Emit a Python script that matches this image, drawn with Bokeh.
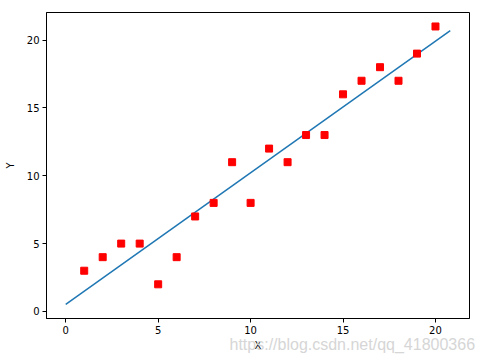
from bokeh.plotting import figure
from bokeh.models import Range1d, Title, FixedTicker
from bokeh.embed import file_html
from bokeh.resources import INLINE

x_vals = [1, 2, 3, 4, 5, 6, 7, 8, 9, 10, 11, 12, 13, 14, 15, 16, 17, 18, 19, 20]
y_vals = [3, 4, 5, 5, 2, 4, 7, 8, 11, 8, 12, 11, 13, 13, 16, 17, 18, 17, 19, 21]
line_x = [0, 20.8]
line_y = [0.52, 20.69]
ticks = [0, 5, 10, 15, 20]
watermark = "https://blog.csdn.net/qq_41800366"

p = figure(width=482, height=358, output_backend="svg", toolbar_location=None,
           x_range=Range1d(-1.04, 21.84), y_range=Range1d(-0.52, 22.03),
           min_border_left=46, min_border_right=13, min_border_top=12, min_border_bottom=40)
p.background_fill_color = "white"
p.border_fill_color = "white"
p.outline_line_color = "black"
p.outline_line_width = 1
p.xgrid.visible = False
p.ygrid.visible = False

p.line(line_x, line_y, line_color="#1f77b4", line_width=1.5)
p.scatter(x_vals, y_vals, marker="square", size=7, fill_color="red", line_color="red")

for ax in (p.xaxis[0], p.yaxis[0]):
    ax.ticker = FixedTicker(ticks=ticks)
    ax.minor_tick_line_color = None
    ax.major_tick_out = 4
    ax.major_tick_in = 0
    ax.major_label_text_font = "DejaVu Sans"
    ax.major_label_text_font_size = "10px"
    ax.major_label_text_color = "black"
    ax.axis_label_text_font = "DejaVu Sans"
    ax.axis_label_text_font_size = "10px"
    ax.axis_label_text_font_style = "normal"
    ax.axis_label_text_color = "black"
    ax.axis_line_color = "black"
    ax.major_label_standoff = 3
p.xaxis.axis_label = "X"
p.yaxis.axis_label = "Y"
p.xaxis.axis_label_standoff = 3
p.yaxis.axis_label_standoff = 8

wm = Title(text=watermark, align="left", vertical_align="top", offset=183, standoff=-36,
           text_font="Liberation Sans", text_font_size="16px",
           text_font_style="normal", text_color="#d6d6d6")
p.add_layout(wm, "below")

open("out.html", "w").write(file_html(p, INLINE))
